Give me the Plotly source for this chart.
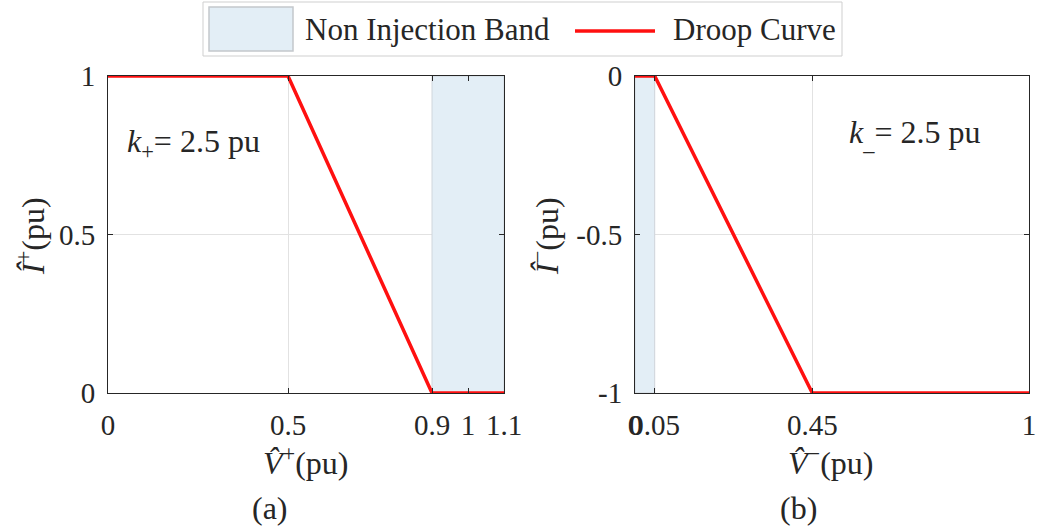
import plotly.graph_objects as go

# ---- data ----
v_pos = [0, 0.5, 0.9, 1.1]
i_pos = [1, 1, 0, 0]
band_pos = [0.9, 1.1]

v_neg = [0, 0.05, 0.45, 1]
i_neg = [0, 0, -1, -1]
band_neg = [0, 0.05]

xt_pos = [0, 0.5, 0.9, 1, 1.1]
xt_pos_lbl = ["0", "0.5", "0.9", "1", "1.1"]
yt_pos = [0, 0.5, 1]
yt_pos_lbl = ["0", "0.5", "1"]

xt_neg = [0, 0.05, 0.45, 1]
xt_neg_lbl = ["0", "0.05", "0.45", "1"]
yt_neg = [-1, -0.5, 0]
yt_neg_lbl = ["-1", "-0.5", "0"]

W, H = 1040, 529
def px(x): return x / W
def py(y): return 1 - y / H

RED = "#ff1010"
BAND = "#e3eef6"
BAND_EDGE = "#d0d6dc"
AX = "#262626"
GRID = "#e2e2e2"
FONT = "Liberation Serif"

fig = go.Figure()

# bands
fig.add_trace(go.Scatter(
    x=[band_pos[0], band_pos[1], band_pos[1], band_pos[0], band_pos[0]],
    y=[min(yt_pos), min(yt_pos), max(yt_pos), max(yt_pos), min(yt_pos)],
    fill="toself", fillcolor=BAND, line=dict(color=BAND_EDGE, width=1),
    mode="lines", showlegend=False, xaxis="x", yaxis="y", hoverinfo="skip"))
fig.add_trace(go.Scatter(
    x=[band_neg[0], band_neg[1], band_neg[1], band_neg[0], band_neg[0]],
    y=[min(yt_neg), min(yt_neg), max(yt_neg), max(yt_neg), min(yt_neg)],
    fill="toself", fillcolor=BAND, line=dict(color=BAND_EDGE, width=1),
    mode="lines", showlegend=False, xaxis="x2", yaxis="y2", hoverinfo="skip"))

# droop curves
fig.add_trace(go.Scatter(x=v_pos, y=i_pos, mode="lines",
                         line=dict(color=RED, width=3.5), showlegend=False,
                         xaxis="x", yaxis="y"))
fig.add_trace(go.Scatter(x=v_neg, y=i_neg, mode="lines",
                         line=dict(color=RED, width=3.5), showlegend=False,
                         xaxis="x2", yaxis="y2"))


def axis(domain, rng, tv, tt, anchor):
    return dict(domain=domain, range=rng, tickvals=tv, ticktext=tt, anchor=anchor,
                showline=True, linecolor=AX, linewidth=1, mirror="ticks",
                ticks="inside", ticklen=5, tickcolor=AX, showgrid=True,
                gridcolor=GRID, gridwidth=1, zeroline=False, automargin=False,
                tickangle=0, ticklabelstandoff=6,
                tickfont=dict(family=FONT, size=29, color=AX))


fig.update_layout(
    width=W, height=H, margin=dict(l=0, r=0, t=0, b=0),
    paper_bgcolor="white", plot_bgcolor="white", showlegend=False,
    xaxis=axis([px(108), px(504)], [0, 1.1], xt_pos, xt_pos_lbl, "y"),
    yaxis=axis([py(393), py(76)], [0, 1], yt_pos, yt_pos_lbl, "x"),
    xaxis2=axis([px(635), px(1029)], [0, 1], xt_neg, xt_neg_lbl, "y2"),
    yaxis2=axis([py(393), py(76)], [-1, 0], yt_neg, yt_neg_lbl, "x2"),
)


def ann(text, x, y, size=30, angle=0, xanchor="center"):
    fig.add_annotation(text=text, x=px(x), y=py(y), xref="paper", yref="paper",
                       showarrow=False, textangle=angle, xanchor=xanchor,
                       yanchor="middle",
                       font=dict(family=FONT, size=size, color=AX))


# axis titles
ann("<i>V\u0302</i><sup>+</sup>(pu)", 306, 461, size=32)
ann("<i>V\u0302</i><sup>\u2212</sup>(pu)", 831, 461, size=32)
ann("<i>\u00ce</i><sup>+</sup>(pu)", 31, 236, size=32, angle=-90)
ann("<i>\u00ce</i><sup>\u2212</sup>(pu)", 545, 236, size=32, angle=-90)
ann("(a)", 270, 508, size=32)
ann("(b)", 798, 508, size=32)

# in-plot notes
ann("<i>k</i><sub>+</sub>= 2.5 pu", 125, 143, size=32, xanchor="left")
ann("<i>k</i><sub>_</sub>= 2.5 pu", 847, 134, size=32, xanchor="left")

# manual legend
fig.add_shape(type="rect", xref="paper", yref="paper",
              x0=px(203), x1=px(842), y0=py(56), y1=py(2),
              line=dict(color="#cfcfcf", width=1), fillcolor="white")
fig.add_shape(type="rect", xref="paper", yref="paper",
              x0=px(209), x1=px(293), y0=py(51), y1=py(7),
              line=dict(color="#c4c8cc", width=1.5), fillcolor=BAND)
fig.add_shape(type="line", xref="paper", yref="paper",
              x0=px(575), x1=px(655), y0=py(31), y1=py(31),
              line=dict(color=RED, width=3.5))
ann("Non Injection Band", 303, 30, size=31, xanchor="left")
ann("Droop Curve", 671, 30, size=31, xanchor="left")

fig.write_html("out.html")
